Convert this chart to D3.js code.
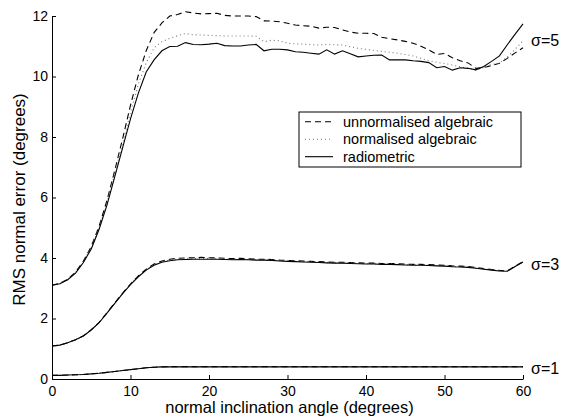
<!DOCTYPE html>
<html><head><meta charset="utf-8">
<script src="https://cdn.jsdelivr.net/npm/d3@7/dist/d3.min.js"></script>
<style>body{margin:0;background:#fff}svg{display:block}text{font-family:"Liberation Sans",Arial,sans-serif;fill:#000}</style>
</head><body><svg id="c" width="568" height="417"></svg>
<script>
const angles = d3.range(0, 61, 1);
const xTicks = [0, 10, 20, 30, 40, 50, 60];
const yTicks = [0, 2, 4, 6, 8, 10, 12];
const seriesNames = ["unnormalised algebraic", "normalised algebraic", "radiometric"];
const sigmaLabels = ["\u03c3=5", "\u03c3=3", "\u03c3=1"];

// sigma = 5
const s5Unnorm = [3.10,3.16,3.30,3.53,3.90,4.38,5.05,5.90,6.90,7.95,9.05,10.05,10.85,11.45,11.77,12.00,12.05,12.14,12.10,12.07,12.08,12.09,12.02,12.00,12.00,12.00,11.98,11.84,11.83,11.81,11.76,11.70,11.68,11.66,11.60,11.63,11.62,11.54,11.47,11.43,11.43,11.42,11.30,11.25,11.21,11.16,11.10,11.00,10.88,10.73,10.76,10.62,10.52,10.45,10.27,10.30,10.36,10.44,10.60,10.78,10.95];
const s5Norm = [3.10,3.15,3.29,3.52,3.88,4.34,5.00,5.82,6.80,7.80,8.80,9.75,10.45,10.95,11.15,11.26,11.35,11.42,11.38,11.37,11.36,11.35,11.34,11.34,11.34,11.34,11.33,11.15,11.20,11.18,11.10,11.08,11.07,11.05,11.04,11.06,11.05,11.04,10.98,10.93,10.90,10.86,10.83,10.80,10.77,10.73,10.68,10.60,10.52,10.47,10.43,10.38,10.32,10.27,10.21,10.30,10.40,10.44,10.65,10.90,11.18];
const s5Radio = [3.10,3.15,3.28,3.50,3.85,4.30,4.95,5.75,6.69,7.65,8.60,9.45,10.15,10.55,10.85,10.99,11.00,11.12,11.06,11.05,11.07,11.10,11.02,11.01,11.01,11.04,11.06,10.85,10.90,10.90,10.88,10.82,10.80,10.77,10.74,10.88,10.74,10.85,10.75,10.65,10.68,10.70,10.71,10.55,10.55,10.55,10.52,10.50,10.46,10.29,10.33,10.21,10.29,10.27,10.22,10.33,10.50,10.68,11.05,11.40,11.74];
// sigma = 3
const s3Unnorm = [1.09,1.12,1.20,1.30,1.43,1.63,1.87,2.19,2.52,2.84,3.14,3.41,3.63,3.80,3.90,3.96,3.99,4.00,4.01,4.02,4.01,4.00,3.99,3.98,3.99,3.97,3.96,3.96,3.95,3.93,3.92,3.91,3.90,3.89,3.88,3.87,3.86,3.86,3.85,3.84,3.83,3.83,3.82,3.82,3.81,3.80,3.79,3.79,3.78,3.77,3.76,3.74,3.73,3.72,3.69,3.65,3.62,3.59,3.58,3.73,3.88];
const s3Norm = [1.09,1.12,1.20,1.30,1.42,1.62,1.86,2.18,2.51,2.83,3.13,3.39,3.61,3.78,3.88,3.93,3.96,3.97,3.98,3.98,3.98,3.97,3.96,3.95,3.96,3.95,3.94,3.94,3.93,3.91,3.90,3.89,3.88,3.87,3.86,3.85,3.84,3.84,3.83,3.82,3.81,3.81,3.80,3.80,3.79,3.78,3.77,3.77,3.76,3.75,3.74,3.72,3.71,3.70,3.67,3.64,3.61,3.58,3.57,3.72,3.87];
const s3Radio = [1.09,1.12,1.20,1.30,1.42,1.62,1.86,2.18,2.50,2.82,3.12,3.38,3.60,3.76,3.86,3.91,3.94,3.95,3.96,3.96,3.96,3.96,3.95,3.94,3.95,3.94,3.93,3.93,3.92,3.90,3.89,3.88,3.87,3.86,3.85,3.84,3.83,3.83,3.82,3.81,3.80,3.80,3.79,3.79,3.78,3.77,3.76,3.76,3.75,3.74,3.73,3.71,3.70,3.69,3.66,3.63,3.60,3.57,3.56,3.72,3.87];
// sigma = 1
const s1Unnorm = [0.12,0.12,0.13,0.14,0.15,0.17,0.19,0.22,0.25,0.28,0.31,0.34,0.37,0.39,0.40,0.41,0.41,0.41,0.41,0.41,0.41,0.41,0.41,0.41,0.41,0.41,0.41,0.41,0.41,0.41,0.41,0.41,0.41,0.41,0.41,0.41,0.41,0.41,0.41,0.41,0.41,0.41,0.41,0.41,0.41,0.41,0.41,0.41,0.41,0.41,0.41,0.41,0.41,0.41,0.41,0.41,0.41,0.41,0.41,0.41,0.41];
const s1Norm = [0.12,0.12,0.13,0.14,0.15,0.17,0.19,0.22,0.25,0.28,0.31,0.34,0.37,0.39,0.40,0.40,0.41,0.41,0.41,0.41,0.41,0.41,0.41,0.41,0.41,0.41,0.41,0.41,0.41,0.41,0.41,0.41,0.41,0.41,0.41,0.41,0.41,0.41,0.41,0.41,0.41,0.41,0.41,0.41,0.41,0.41,0.41,0.41,0.41,0.41,0.41,0.41,0.41,0.41,0.41,0.41,0.41,0.41,0.41,0.41,0.41];
const s1Radio = [0.12,0.12,0.13,0.14,0.15,0.17,0.19,0.22,0.25,0.28,0.31,0.34,0.37,0.39,0.40,0.40,0.40,0.40,0.40,0.40,0.40,0.40,0.40,0.40,0.40,0.40,0.40,0.40,0.40,0.40,0.40,0.40,0.40,0.40,0.40,0.40,0.40,0.40,0.40,0.40,0.40,0.40,0.40,0.40,0.40,0.40,0.40,0.40,0.40,0.40,0.40,0.40,0.40,0.40,0.40,0.40,0.40,0.40,0.40,0.40,0.40];

const svg = d3.select("#c");
const m = {l: 52, r: 523, t: 16, b: 379};
const x = d3.scaleLinear().domain([0, 60]).range([m.l, m.r]);
const y = d3.scaleLinear().domain([0, 12]).range([m.b, m.t]);

const styles = [
  {dash: "6,4", color: "#000", w: 1.1},
  {dash: "1,3", color: "#777", w: 1.1},
  {dash: null, color: "#000", w: 1.1}
];
const groups = [
  [s5Unnorm, s5Norm, s5Radio],
  [s3Unnorm, s3Norm, s3Radio],
  [s1Unnorm, s1Norm, s1Radio]
];
const line = d3.line().x((d, i) => x(angles[i])).y(d => y(d));

groups.forEach(g => {
  g.forEach((vals, k) => {
    const p = svg.append("path").datum(vals).attr("d", line)
      .attr("fill", "none").attr("stroke", styles[k].color).attr("stroke-width", styles[k].w);
    if (styles[k].dash) p.attr("stroke-dasharray", styles[k].dash);
  });
});

// axes
const xa = svg.append("g").attr("transform", `translate(0,${m.b})`)
  .call(d3.axisBottom(x).tickValues(xTicks).tickSizeInner(-4).tickSizeOuter(0).tickPadding(7));
const ya = svg.append("g").attr("transform", `translate(${m.l},0)`)
  .call(d3.axisLeft(y).tickValues(yTicks).tickSizeInner(-4).tickSizeOuter(0).tickPadding(4));
[xa, ya].forEach(a => {
  a.selectAll("text").style("font-size", "14px").attr("fill", "#000");
  a.select(".domain").attr("stroke", "#000");
  a.selectAll(".tick line").attr("stroke", "#000");
});

svg.append("text").attr("x", (m.l + m.r) / 2 + 2).attr("y", 413).attr("text-anchor", "middle")
  .style("font-size", "16.5px").text("normal inclination angle (degrees)");
svg.append("text").attr("transform", `translate(25,${(m.t + m.b) / 2 + 2}) rotate(-90)`)
  .attr("text-anchor", "middle").style("font-size", "17px").text("RMS normal error (degrees)");

// sigma labels
const sigY = [40, 264, 368];
sigmaLabels.forEach((t, i) => {
  svg.append("text").attr("x", 531).attr("y", sigY[i]).attr("dy", "0.35em")
    .style("font-size", "16px").text(t);
});

// legend
const lg = svg.append("g");
lg.append("rect").attr("x", 299).attr("y", 112).attr("width", 222).attr("height", 55)
  .attr("fill", "#fff").attr("stroke", "#000").attr("stroke-width", 1);
seriesNames.forEach((n, k) => {
  const yy = 121.7 + k * 17.5;
  const l = lg.append("line").attr("x1", 305).attr("x2", 333).attr("y1", yy).attr("y2", yy)
    .attr("stroke", styles[k].color).attr("stroke-width", styles[k].w);
  if (styles[k].dash) l.attr("stroke-dasharray", styles[k].dash);
  lg.append("text").attr("x", 343).attr("y", yy).attr("dy", "0.35em").style("font-size", "14.5px").text(n);
});
</script></body></html>
